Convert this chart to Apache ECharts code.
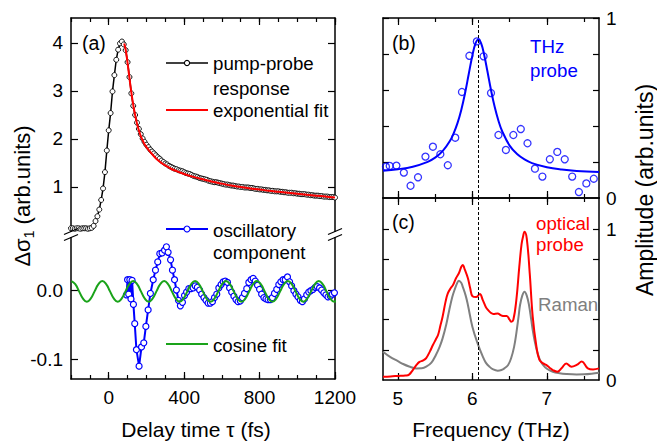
<!DOCTYPE html>
<html><head><meta charset="utf-8">
<script src="https://cdn.jsdelivr.net/npm/echarts@6/dist/echarts.min.js"></script>
<style>html,body{margin:0;padding:0;background:#fff}#c{width:657px;height:441px}</style>
</head><body><div id="c"></div>
<script>
// ---------- data ----------
// (a) pump-probe response, delay time in fs
const pumpT = [-200,-190,-180,-170,-160,-150,-140,-130,-120,-110,-100,-90,-80,-70,-60,-50,-40,-30,-20,-10,
  0,10,20,30,40,50,60,70,80,90,100,110,120,130,140,150,160,170,180,190,
  200,210,220,230,240,250,260,270,280,290,300,310,320,330,340,350,360,370,380,390,
  400,410,420,430,440,450,460,470,480,490,500,510,520,530,540,550,560,570,580,590,
  600,610,620,630,640,650,660,670,680,690,700,710,720,730,740,750,760,770,780,790,
  800,810,820,830,840,850,860,870,880,890,900,910,920,930,940,950,960,970,980,990,
  1000,1010,1020,1030,1040,1050,1060,1070,1080,1090,1100,1110,1120,1130,1140,1150,1160,1170,1180,1190,1200];
const pumpV = [0.14,0.14,0.13,0.14,0.14,0.13,0.14,0.14,0.14,0.13,0.14,0.15,0.19,0.29,0.39,0.53,0.73,0.97,1.31,1.76,
  2.18,2.54,2.99,3.33,3.65,3.86,3.99,4.03,3.97,3.85,3.60,3.29,2.95,2.69,2.50,2.34,2.21,2.10,2.01,1.94,
  1.88,1.83,1.78,1.74,1.70,1.66,1.62,1.59,1.55,1.52,1.49,1.47,1.44,1.42,1.40,1.38,1.37,1.35,1.34,1.33,
  1.31,1.29,1.28,1.27,1.25,1.23,1.22,1.21,1.19,1.18,1.17,1.16,1.15,1.13,1.12,1.11,1.10,1.10,1.09,1.08,
  1.07,1.06,1.05,1.05,1.04,1.03,1.03,1.02,1.01,1.01,1.00,1.00,0.99,0.99,0.99,0.98,0.98,0.97,0.96,0.96,
  0.95,0.95,0.94,0.94,0.93,0.93,0.92,0.92,0.91,0.91,0.91,0.90,0.90,0.89,0.89,0.88,0.88,0.88,0.87,0.87,
  0.86,0.86,0.85,0.85,0.85,0.84,0.84,0.83,0.83,0.82,0.82,0.82,0.81,0.81,0.80,0.80,0.80,0.79,0.79,0.79,0.78];
// (a) exponential fit
const expT = [82,90,100,110,120,130,140,150,160,170,180,190,200,220,240,260,280,300,330,360,400,450,500,550,600,650,700,750,800,850,900,950,1000,1050,1100,1150,1200];
const expV = [3.99,3.86,3.58,3.27,2.97,2.71,2.50,2.32,2.18,2.06,1.97,1.89,1.83,1.73,1.64,1.56,1.50,1.45,1.38,1.33,1.27,1.21,1.16,1.11,1.07,1.03,1.00,0.97,0.95,0.92,0.90,0.88,0.86,0.84,0.82,0.80,0.78];
// (a) oscillatory component
const oscT = [94,100,106,112,118,124,131,138,147,161,174,186,197,209,221,236,248,260,271,283,296,306,315,328,338,349,359,370,380,391,402,413,425,436,448,459,470,482,493,505,516,527,539,550,561,573,584,596,607,618,630,641,652,664,675,686,698,709,720,732,743,755,766,777,789,800,811,823,834,845,857,868,879,891,902,913,925,936,948,959,970,982,993,1004,1016,1027,1038,1050,1061,1072,1084,1095,1106,1118,1129,1141,1152,1163,1175,1186,1197];
const oscV = [-0.006,0.016,-0.005,0.016,-0.012,0.015,-0.020,-0.048,-0.086,-0.110,-0.082,-0.076,-0.052,-0.028,-0.004,0.016,0.030,0.042,0.054,0.055,0.059,0.064,0.056,0.045,0.030,0.016,0.001,-0.014,-0.022,-0.017,-0.007,-0.002,0.003,0.003,0.004,0.007,0.005,0.001,-0.005,-0.010,-0.014,-0.018,-0.018,-0.016,-0.010,-0.005,0.004,0.009,0.013,0.014,0.012,0.004,-0.002,-0.008,-0.013,-0.016,-0.015,-0.010,-0.004,0.003,0.012,0.016,0.018,0.014,0.008,0.002,-0.005,-0.010,-0.012,-0.013,-0.013,-0.010,-0.004,0.002,0.009,0.013,0.016,0.016,0.020,0.013,0.007,0.000,-0.005,-0.009,-0.014,-0.016,-0.012,-0.006,-0.002,0.000,0.002,0.005,0.006,0.004,0.001,-0.003,-0.006,-0.009,-0.008,-0.005,-0.003];
// (a) cosine fit
const cosT = [-198,-177.5,-157,-136.5,-116,-95.5,-75,-54.5,-34,-13.5,7,27.5,48,68.5,89,109.5,130,150.5,171,191.5,212,232.5,253,273.5,294,314.5,335,355.5,376,396.5,417,437.5,458,478.5,499,519.5,540,560.5,581,601.5,622,642.5,663,683.5,704,724.5,745,765.5,786,806.5,827,847.5,868,888.5,909,929.5,950,970.5,991,1011.5,1032,1052.5,1073,1093.5,1114,1134.5,1155,1175.5,1196,1216.5];
const cosV = [0.014,0.0096,-0.001,-0.0116,-0.016,-0.0116,-0.001,0.0096,0.014,0.0096,-0.001,-0.0116,-0.016,-0.0116,-0.001,0.0096,0.014,0.0096,-0.001,-0.0116,-0.016,-0.0116,-0.001,0.0096,0.014,0.0096,-0.001,-0.0116,-0.016,-0.0116,-0.001,0.0096,0.014,0.0096,-0.001,-0.0116,-0.016,-0.0116,-0.001,0.0096,0.014,0.0096,-0.001,-0.0116,-0.016,-0.0116,-0.001,0.0096,0.014,0.0096,-0.001,-0.0116,-0.016,-0.0116,-0.001,0.0096,0.014,0.0096,-0.001,-0.0116,-0.016,-0.0116,-0.001,0.0096,0.014,0.0096,-0.001,-0.0116,-0.016,-0.0116];
// (b) THz probe spectrum (THz) and Lorentzian fit
const thzF = [4.84,4.89,4.98,5.08,5.17,5.27,5.37,5.47,5.57,5.67,5.77,5.86,5.96,6.06,6.15,6.25,6.35,6.45,6.55,6.65,6.74,6.84,6.94,7.04,7.14,7.24,7.34,7.43,7.53,7.63];
const thzV = [0.174,0.178,0.180,0.141,0.068,0.115,0.230,0.285,0.243,0.182,0.335,0.589,0.790,0.870,0.787,0.583,0.350,0.267,0.350,0.383,0.304,0.163,0.119,0.215,0.256,0.215,0.119,0.033,0.081,0.107];
const lorF = [4.80,5.00,5.20,5.40,5.50,5.60,5.70,5.75,5.80,5.85,5.90,5.95,6.00,6.04,6.08,6.12,6.16,6.20,6.25,6.30,6.35,6.40,6.50,6.60,6.70,6.80,7.00,7.20,7.40,7.70];
const lorV = [0.152,0.160,0.174,0.201,0.224,0.260,0.318,0.361,0.416,0.488,0.579,0.686,0.792,0.856,0.880,0.856,0.792,0.708,0.600,0.505,0.429,0.371,0.291,0.244,0.214,0.194,0.171,0.158,0.150,0.144];
// (c) optical probe and Raman spectra
const optF = [4.80,4.90,5.00,5.10,5.15,5.20,5.25,5.29,5.34,5.38,5.43,5.47,5.51,5.54,5.57,5.60,5.64,5.67,5.71,5.74,5.78,5.82,5.85,5.87,5.90,5.94,5.97,6.00,6.05,6.10,6.14,6.18,6.21,6.25,6.28,6.34,6.38,6.41,6.46,6.50,6.52,6.55,6.59,6.63,6.66,6.68,6.70,6.73,6.77,6.81,6.86,6.90,6.95,6.99,7.04,7.08,7.14,7.20,7.26,7.33,7.40,7.47,7.55,7.62,7.70];
const optV = [0.022,0.024,0.027,0.030,0.036,0.066,0.100,0.120,0.130,0.145,0.190,0.232,0.270,0.300,0.360,0.420,0.520,0.575,0.610,0.630,0.675,0.710,0.750,0.763,0.730,0.675,0.610,0.557,0.550,0.571,0.530,0.485,0.465,0.445,0.438,0.442,0.430,0.425,0.425,0.400,0.387,0.400,0.530,0.752,0.900,0.951,0.984,0.940,0.708,0.420,0.221,0.133,0.110,0.100,0.080,0.066,0.055,0.080,0.110,0.088,0.100,0.122,0.077,0.070,0.077];
const ramF = [4.80,4.90,5.00,5.07,5.15,5.25,5.32,5.38,5.45,5.51,5.56,5.60,5.65,5.69,5.73,5.76,5.80,5.82,5.85,5.87,5.91,5.94,6.00,6.07,6.14,6.18,6.23,6.28,6.34,6.39,6.43,6.48,6.52,6.56,6.59,6.62,6.64,6.67,6.70,6.73,6.76,6.79,6.81,6.84,6.87,6.91,6.95,7.00,7.08,7.17,7.26,7.40,7.50,7.60,7.70];
const ramV = [0.188,0.152,0.125,0.106,0.090,0.077,0.078,0.088,0.115,0.166,0.220,0.276,0.370,0.465,0.550,0.597,0.648,0.659,0.645,0.620,0.560,0.498,0.354,0.243,0.155,0.115,0.088,0.070,0.062,0.066,0.077,0.100,0.144,0.220,0.310,0.420,0.498,0.560,0.586,0.560,0.498,0.400,0.332,0.250,0.188,0.130,0.100,0.075,0.055,0.045,0.040,0.037,0.038,0.042,0.048];
const phononTHz = 6.08;
// ticks / labels
const delayLabels = [0,400,800,1200];
const delayMinor = [-200,-100,0,100,200,300,400,500,600,700,800,900,1000,1100,1200];
const sigmaTopTicks = [1,2,3,4];
const sigmaBottomTicks = [0,-0.1];
const freqLabels = [5,6,7];
const freqMinor = [5,5.5,6,6.5,7,7.5];
const ampTicks = [0.2,0.4,0.6,0.8,1.0];
const ampLabels = [0,1];

// ---------- chart ----------
const FONT = 'Liberation Sans, Arial, Helvetica, sans-serif';
const K = '#000';
const zip = (a, b) => a.map((x, i) => [x, b[i]]);
const line = show => ({show, onZero:false, lineStyle:{color:K, width:1.5}});
const ticks = (vals, len) => ({show:true, inside:true, length:len, customValues:vals, lineStyle:{color:K, width:1.2}});
const noLab = {show:false};
const plain = v => String(v);
const lab = (vals, margin, fmt) => ({show:true, customValues:vals, margin, fontSize:19, fontFamily:FONT, color:K, showMinLabel:true, showMaxLabel:true, formatter: fmt || plain});
const ax = (grid, pos, min, max, showLine, tv, tl, label) => ({type:'value', gridIndex:grid, position:pos, min, max, axisLine:line(showLine), axisTick:ticks(tv, tl), axisLabel:label || noLab, splitLine:{show:false}, minorTick:{show:false}});

const xAxis = [
  ax(0,'top',-200,1200,true,delayMinor,4),
  ax(0,'top',-200,1200,false,delayLabels,7),
  ax(1,'bottom',-200,1200,true,delayMinor,4,lab(delayLabels,9)),
  ax(1,'bottom',-200,1200,false,delayLabels,7),
  ax(2,'top',4.8,7.7,true,freqMinor,4),
  ax(2,'top',4.8,7.7,false,freqLabels,7),
  ax(2,'bottom',4.8,7.7,true,freqMinor,4),
  ax(2,'bottom',4.8,7.7,false,freqLabels,7),
  ax(3,'top',4.8,7.7,true,freqMinor,4),
  ax(3,'top',4.8,7.7,false,freqLabels,7),
  ax(3,'bottom',4.8,7.7,true,freqMinor,4,lab(freqLabels,9)),
  ax(3,'bottom',4.8,7.7,false,freqLabels,7)
];
const yAxis = [
  ax(0,'left',0,4.52,true,sigmaTopTicks,7,lab(sigmaTopTicks,8)),
  ax(0,'right',0,4.52,true,sigmaTopTicks,7),
  ax(1,'left',-0.1287,0.0812,true,sigmaBottomTicks,7,lab(sigmaBottomTicks,8,v => v.toFixed(1))),
  ax(1,'right',-0.1287,0.0812,true,sigmaBottomTicks,7),
  ax(2,'left',0,1,true,ampTicks,6),
  ax(2,'right',0,1,true,ampTicks,6,lab(ampLabels,7)),
  ax(3,'left',0,1.2077,true,ampTicks,6),
  ax(3,'right',0,1.2077,true,ampTicks,6,lab(ampLabels,7))
];
const dashed = {symbol:'none', silent:true, label:{show:false}, lineStyle:{color:K, width:1, type:[3,2]}, data:[{xAxis:phononTHz}]};

const pumpData = zip(pumpT, pumpV);
const series = [
  {type:'line', xAxisIndex:0, yAxisIndex:0, data:pumpData, showSymbol:false, lineStyle:{color:K, width:1.5}, z:1},
  {type:'scatter', xAxisIndex:0, yAxisIndex:0, data:pumpData, symbol:'circle', symbolSize:5,
   itemStyle:{color:'#fff', borderColor:K, borderWidth:0.9, opacity:1}, z:2},
  {type:'line', xAxisIndex:0, yAxisIndex:0, data:zip(expT,expV), smooth:0.4, showSymbol:false, lineStyle:{color:'#ff0000', width:2}, z:20, zlevel:1},
  {type:'line', xAxisIndex:2, yAxisIndex:2, data:zip(oscT,oscV), symbol:'circle', symbolSize:6, showAllSymbol:true,
   lineStyle:{color:'#0000ff', width:2}, itemStyle:{color:'#fff', borderColor:'#0000ff', borderWidth:1.2}, z:1},
  {type:'line', xAxisIndex:2, yAxisIndex:2, data:zip(cosT,cosV), smooth:0.5, showSymbol:false, lineStyle:{color:'#1aa31a', width:2}, z:10},
  {type:'line', xAxisIndex:4, yAxisIndex:4, data:zip(lorF,lorV), smooth:0.4, showSymbol:false, lineStyle:{color:'#0000ff', width:2}, markLine:dashed, z:2},
  {type:'scatter', xAxisIndex:4, yAxisIndex:4, data:zip(thzF,thzV), symbol:'circle', symbolSize:7,
   itemStyle:{color:'rgba(255,255,255,0)', borderColor:'#0000ff', borderWidth:1.3}, z:3},
  {type:'line', xAxisIndex:8, yAxisIndex:6, data:zip(ramF,ramV), smooth:0.4, showSymbol:false, lineStyle:{color:'#808080', width:2}, markLine:dashed, z:2},
  {type:'line', xAxisIndex:8, yAxisIndex:6, data:zip(optF,optV), smooth:0.4, showSymbol:false, lineStyle:{color:'#ff0000', width:2}, z:3}
];

const txt = (x, y, text, o = {}) => ({type:'text', x, y, z:100, zlevel:1, rotation:o.rot || 0,
  style:Object.assign({text, fill:o.color || K, font:(o.size || 18.7) + 'px ' + FONT, textAlign:o.align || 'left', textVerticalAlign:'middle'}, o.style || {})});
const seg = (x1, y1, x2, y2, color, w) => ({type:'line', z:100, zlevel:1, shape:{x1, y1, x2, y2}, style:{stroke:color, lineWidth:w}});
const dot = (cx, cy, r, color) => ({type:'circle', z:101, zlevel:1, shape:{cx, cy, r}, style:{fill:'#fff', stroke:color, lineWidth:1.1}});
const brk = x => [
  {type:'rect', z:99, zlevel:1, shape:{x:x-3, y:232, width:6, height:5}, style:{fill:'#fff'}},
  seg(x-7, 234.5, x+7, 228.5, K, 1.3),
  seg(x-7, 240.5, x+7, 234.5, K, 1.3)
];

const graphic = [
  txt(82, 43, '(a)', {size:19.5}),
  txt(392, 43, '(b)', {size:19.5}),
  txt(392, 222, '(c)', {size:19.5}),
  seg(166, 63, 208, 63, K, 1.5), dot(187, 63, 2.6, K),
  txt(213, 63, 'pump-probe'), txt(213, 88, 'response'),
  seg(166, 110, 208, 110, '#ff0000', 2), txt(213, 110, 'exponential fit'),
  seg(166, 229, 208, 229, '#0000ff', 2), dot(187, 229, 3, '#0000ff'),
  txt(213, 230, 'oscillatory'), txt(213, 252, 'component'),
  seg(166, 344, 208, 344, '#1aa31a', 2), txt(213, 345, 'cosine fit'),
  txt(530, 46, 'THz', {color:'#0000ff'}), txt(530, 70, 'probe', {color:'#0000ff'}),
  txt(536, 223, 'optical', {color:'#ff0000'}), txt(536, 244, 'probe', {color:'#ff0000'}),
  txt(538, 304, 'Raman', {color:'#808080'}),
  txt(196, 429, 'Delay time τ (fs)', {size:21, align:'center'}),
  txt(491, 429, 'Frequency (THz)', {size:21, align:'center'}),
  txt(645, 190, 'Amplitude (arb.units)', {size:23, align:'center', rot:Math.PI/2}),
  {type:'text', x:22, y:196, z:100, zlevel:1, rotation:Math.PI/2,
   style:{text:'{m|Δσ}{s|1}{m| (arb.units)}', textAlign:'center', textVerticalAlign:'middle', fill:K,
     rich:{m:{fontSize:22, fontFamily:FONT, lineHeight:28, verticalAlign:'middle', fill:K, color:K},
           s:{fontSize:14, fontFamily:FONT, lineHeight:14, verticalAlign:'bottom', fill:K, color:K}}}},
  ...brk(71), ...brk(335)
];

const chart = echarts.init(document.getElementById('c'), null, {renderer:'svg'});
chart.setOption({
  animation:false,
  backgroundColor:'#fff',
  grid:[
    {left:71, top:18, width:264, height:217, outerBoundsMode:'none'},
    {left:71, top:235, width:264, height:144, outerBoundsMode:'none'},
    {left:383, top:18, width:216, height:180, outerBoundsMode:'none'},
    {left:383, top:198, width:216, height:182, outerBoundsMode:'none'}
  ],
  xAxis, yAxis, series, graphic
});
</script></body></html>
